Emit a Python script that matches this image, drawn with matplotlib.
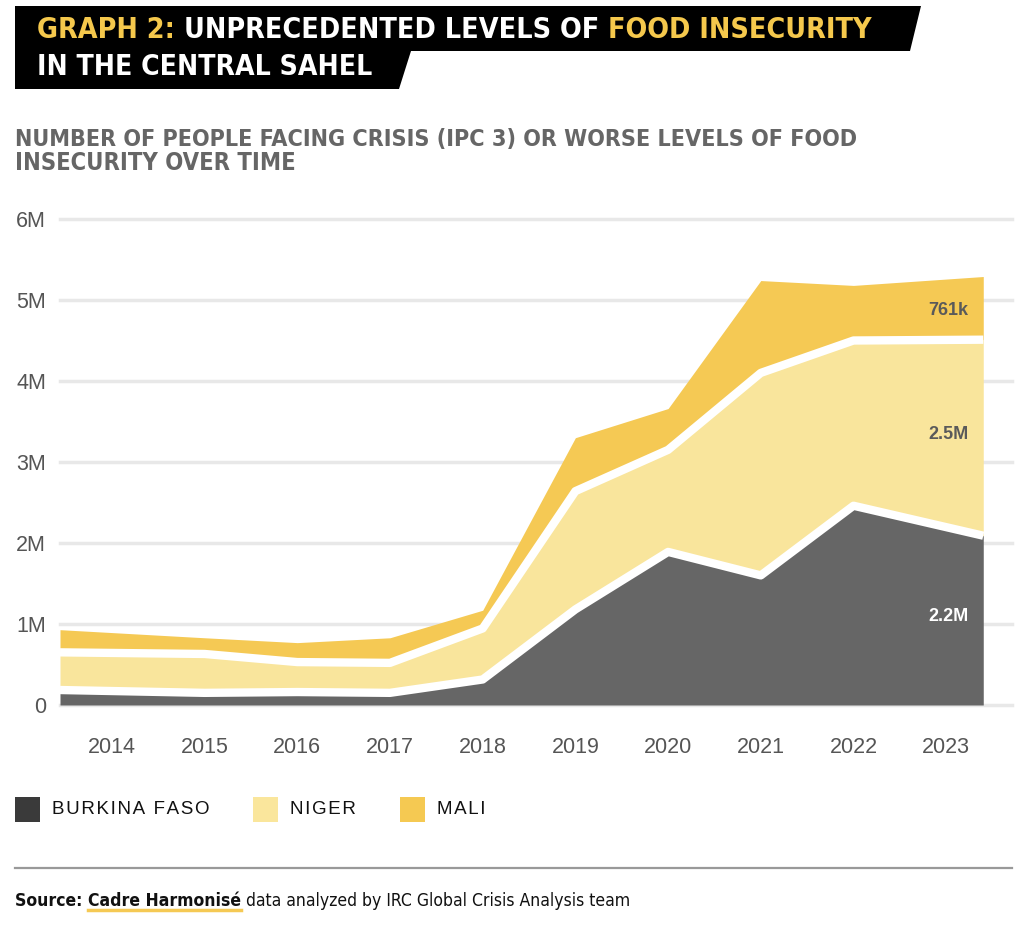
import matplotlib.pyplot as plt
from matplotlib import font_manager
from matplotlib.patches import Rectangle, Polygon

# vertices of the stacked areas (fractional years, values in millions)
vertex_years = [2013.44, 2015, 2016, 2017, 2018, 2019, 2020, 2021, 2022, 2023.4]
burkina = [0.185, 0.15, 0.16, 0.15, 0.315, 1.18, 1.89, 1.60, 2.46, 2.09]
niger = [0.465, 0.48, 0.37, 0.37, 0.63, 1.46, 1.26, 2.50, 2.04, 2.42]
mali = [0.28, 0.20, 0.24, 0.31, 0.225, 0.66, 0.51, 1.14, 0.68, 0.78]

countries = ['BURKINA FASO', 'NIGER', 'MALI']
end_labels = ['2.2M', '2.5M', '761k']
year_ticks = list(range(2014, 2024))
y_ticks = [0, 1, 2, 3, 4, 5, 6]
y_tick_labels = ['0', '1M', '2M', '3M', '4M', '5M', '6M']

DARK = '#666666'
NIGER_C = '#f9e59c'
MALI_C = '#f5c954'
TITLE_Y = '#f5c84c'

# look for a narrow / condensed face for the headings, else fall back to Roboto
COND = dict(family='Roboto')
for f in font_manager.fontManager.ttflist:
    if 'Narrow' in f.name or 'Condensed' in f.name or f.stretch in ('condensed', 'semi-condensed'):
        COND = dict(family=f.name, stretch=f.stretch)
        break
SANS = 'Liberation Sans'

W, H = 1024, 926
fig = plt.figure(figsize=(W / 100, H / 100), dpi=100)
renderer = fig.canvas.get_renderer()


def fx(x):
    return x / W


def fy(y):
    return 1 - y / H


def put_runs(x, y, runs, width=None, **kw):
    # place a row of differently styled text pieces one after another;
    # with width given, the font size is scaled so the row spans that many pixels
    x0 = x
    texts, spans = [], []
    for txt, style in runs:
        t = fig.text(fx(x), fy(y), txt, **kw, **style)
        bb = t.get_window_extent(renderer)
        texts.append(t)
        spans.append((x, x + bb.width))
        x += bb.width
    if width is None:
        return spans
    for t in texts:
        t.remove()
    kw = dict(kw)
    kw['fontsize'] = kw['fontsize'] * width / (x - x0)
    return put_runs(x0, y, runs, **kw)


# header band
band = Polygon([(fx(15), fy(6)), (fx(921), fy(6)), (fx(910), fy(51)), (fx(411), fy(51)),
                (fx(399), fy(89)), (fx(15), fy(89))], closed=True,
               transform=fig.transFigure, color='black', lw=0)
fig.add_artist(band)
hkw = dict(COND, fontweight='heavy', fontsize=23, va='baseline')
put_runs(37, 38, [('GRAPH 2: ', dict(color=TITLE_Y)),
                  ('UNPRECEDENTED LEVELS OF ', dict(color='white')),
                  ('FOOD INSECURITY', dict(color=TITLE_Y))], width=836, **hkw)
put_runs(37, 75, [('IN THE CENTRAL SAHEL', dict(color='white'))], width=335, **hkw)

skw = dict(COND, fontweight='bold', fontsize=17.5, color='#666666', va='baseline')
put_runs(15, 146, [('NUMBER OF PEOPLE FACING CRISIS (IPC 3) OR WORSE LEVELS OF FOOD', {})],
         width=845, **skw)
put_runs(15, 170, [('INSECURITY OVER TIME', {})], width=280, **skw)

# chart
ax = fig.add_axes([fx(60), fy(705), (1012 - 60) / W, (705 - 219) / H])
ax.set_xlim(2013.44, 2023.71)
ax.set_ylim(0, 6)
for v in y_ticks:
    ax.axhline(v, color='#e8e8e8', lw=2.5, zorder=0, clip_on=False)

b_top = burkina
n_top = [b + n for b, n in zip(burkina, niger)]
m_top = [n + m for n, m in zip(n_top, mali)]
ax.fill_between(vertex_years, 0, b_top, color=DARK, lw=0, zorder=2)
ax.fill_between(vertex_years, b_top, n_top, color=NIGER_C, lw=0, zorder=2)
ax.fill_between(vertex_years, n_top, m_top, color=MALI_C, lw=0, zorder=2)
for top in (b_top, n_top):
    ax.plot(vertex_years, top, color='white', lw=6, solid_joinstyle='round',
            solid_capstyle='butt', zorder=3)

lkw = dict(ha='right', va='center', fontweight='bold', fontsize=13, family=SANS, zorder=4)
ax.text(2023.24, 1.09, end_labels[0], color='white', **lkw)
ax.text(2023.24, 3.34, end_labels[1], color='#5a5a5a', **lkw)
ax.text(2023.24, 4.87, end_labels[2], color='#5a5a5a', **lkw)

ax.set_xticks(year_ticks)
ax.set_xticklabels([str(y) for y in year_ticks])
ax.set_yticks(y_ticks)
ax.set_yticklabels(y_tick_labels)
ax.tick_params(length=0, labelsize=15.5, labelcolor='#555555')
ax.tick_params(axis='x', pad=23)
ax.tick_params(axis='y', pad=10)
for lab in ax.get_xticklabels() + ax.get_yticklabels():
    lab.set_family(SANS)
for s in ax.spines.values():
    s.set_visible(False)

# legend
leg_colors = ['#3a3a3a', '#fae69c', '#f5c952']
leg_x = [15, 253, 400]
for name, col, lx in zip(countries, leg_colors, leg_x):
    fig.add_artist(Rectangle((fx(lx), fy(822)), 25 / W, 25 / H, transform=fig.transFigure,
                             color=col, lw=0))
    fig.text(fx(lx + 37), fy(810), '\u200a'.join(name), family=SANS, fontsize=13.5,
             color='#111111', va='center')

fig.add_artist(plt.Line2D([fx(15), fx(1012)], [fy(868), fy(868)], transform=fig.transFigure,
                          color='#999999', lw=1.6))

src_kw = dict(COND, fontsize=13.5, color='#111111', va='baseline')
spans = put_runs(15, 906, [('Source: ', dict(fontweight='bold')),
                           ('Cadre Harmonisé', dict(fontweight='bold')),
                           (' data analyzed by IRC Global Crisis Analysis team', dict())],
                 width=617, **src_kw)
u0, u1 = spans[1]
fig.add_artist(plt.Line2D([fx(u0), fx(u1)], [fy(910), fy(910)], transform=fig.transFigure,
                          color=MALI_C, lw=2.5, zorder=0))

fig.savefig('out.png', dpi=100)
